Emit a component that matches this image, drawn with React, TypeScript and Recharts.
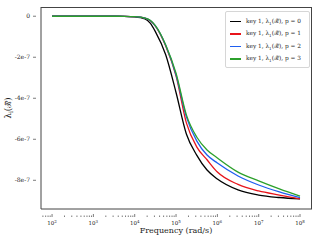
import React from 'react';
import {
  LineChart,
  Line,
  XAxis,
  YAxis,
  Legend,
} from 'recharts';

// frequency read as decade exponents (rad/s = 10^exp)
const freqExp = [2, 2.5, 3, 3.5, 3.75, 4, 4.25, 4.375, 4.5, 4.75, 5, 5.25, 5.5, 5.75, 6, 6.5, 7, 7.5, 8];

// lambda values in units of 1e-7
const p0 = [0, 0, 0, 0, -0.005, -0.03, -0.13, -0.34, -0.75, -1.88, -3.72, -5.74, -6.77, -7.5, -7.94, -8.47, -8.72, -8.84, -8.91];
const p1 = [0, 0, 0, 0, -0.004, -0.02, -0.09, -0.22, -0.48, -1.45, -2.91, -5.2, -6.37, -7.0, -7.6, -8.2, -8.52, -8.72, -8.91];
const p2 = [0, 0, 0, 0, -0.004, -0.02, -0.09, -0.21, -0.47, -1.42, -2.86, -4.91, -6.08, -6.77, -7.16, -7.79, -8.23, -8.57, -8.85];
const p3 = [0, 0, 0, 0, -0.004, -0.02, -0.09, -0.2, -0.46, -1.4, -2.78, -4.81, -5.89, -6.52, -6.91, -7.6, -8.03, -8.42, -8.77];

const xMajorExp = [2, 3, 4, 5, 6, 7, 8];
const yTicks = [0, -2e-7, -4e-7, -6e-7, -8e-7];
const yTickLabels = ['0', '-2e-7', '-4e-7', '-6e-7', '-8e-7'];

const seriesNames = ['p = 0', 'p = 1', 'p = 2', 'p = 3'];
const seriesKeys = ['p0', 'p1', 'p2', 'p3'];
const colors = ['#000000', '#e8141b', '#1f5ef0', '#2ca02c'];

const data = freqExp.map((e, i) => ({
  f: Math.pow(10, e),
  p0: p0[i] * 1e-7,
  p1: p1[i] * 1e-7,
  p2: p2[i] * 1e-7,
  p3: p3[i] * 1e-7,
}));

const majorTicks = xMajorExp.map((e) => Math.pow(10, e));
const minorTicks: number[] = [];
for (let e = 1; e <= 8; e++) {
  for (let m = 2; m <= 9; m++) {
    const v = m * Math.pow(10, e);
    if (v > 54 && v < 1.9e8) minorTicks.push(v);
  }
}
const allTicks = [...majorTicks, ...minorTicks].sort((a, b) => a - b);

const FONT = '"DejaVu Serif", "Liberation Serif", serif';

const XTick = (props: any) => {
  const { x, y, payload } = props;
  const v = payload.value;
  const exp = Math.round(Math.log10(v));
  const major = Math.abs(v - Math.pow(10, exp)) < 1e-6 * v;
  return (
    <g>
      <line x1={x} x2={x} y1={y - (major ? 3 : 1.5)} y2={y} stroke="#444" strokeWidth={0.7} />
      {major && (
        <text x={x} y={y + 8} textAnchor="middle" fontFamily={FONT} fontSize={5.5} fill="#222">
          10
          <tspan dy={-2.5} fontSize={4}>{exp}</tspan>
        </text>
      )}
    </g>
  );
};

const YTick = (props: any) => {
  const { x, y, payload } = props;
  const idx = yTicks.findIndex((t) => Math.abs(t - payload.value) < 1e-12);
  return (
    <g>
      <line x1={x} x2={x + 3} y1={y} y2={y} stroke="#444" strokeWidth={0.7} />
      <text x={x - 3} y={y + 2} textAnchor="end" fontFamily={FONT} fontSize={6} fill="#222">
        {idx >= 0 ? yTickLabels[idx] : ''}
      </text>
    </g>
  );
};

const LegendBox = () => (
  <div
    style={{
      border: '1px solid #d6d6d6',
      borderRadius: 2,
      background: '#fff',
      padding: '3px 3px 2px 4px',
      fontFamily: FONT,
      fontSize: 5.8,
      color: '#222',
    }}
  >
    {seriesNames.map((name, i) => (
      <div key={name} style={{ display: 'flex', alignItems: 'center', height: 12.5 }}>
        <div style={{ width: 11, height: 1.5, background: colors[i], marginRight: 5 }} />
        <span style={{ whiteSpace: 'nowrap' }}>
          key 1, λ<sub style={{ fontSize: 4 }}>1</sub>(ℛ̃), {name}
        </span>
      </div>
    ))}
  </div>
);

const App = () => {
  return (
    <div style={{ position: 'absolute', left: 0, top: 0, width: 320, height: 240, background: '#fff' }}>
      <LineChart width={320} height={240} data={data} margin={{ top: 7, right: 8, left: 0, bottom: 0 }}>
        <XAxis
          dataKey="f"
          type="number"
          scale="log"
          domain={[54, 1.95e8]}
          ticks={allTicks}
          interval={0}
          tick={<XTick />}
          tickLine={false}
          axisLine={{ stroke: '#444', strokeWidth: 1 }}
          height={31}
          allowDataOverflow
          label={() => (
            <text x={176} y={233} textAnchor="middle" fontFamily={FONT} fontSize={8} fill="#222">
              Frequency (rad/s)
            </text>
          )}
        />
        <YAxis
          type="number"
          domain={[-9.4e-7, 0.45e-7]}
          ticks={yTicks}
          interval={0}
          tick={<YTick />}
          tickLine={false}
          axisLine={{ stroke: '#444', strokeWidth: 1 }}
          width={41}
          allowDataOverflow
          label={() => (
            <text x={11} y={108} transform="rotate(-90 11 108)" textAnchor="middle" fontFamily={FONT} fontSize={8.5} fill="#222">
              λ<tspan dy={2} fontSize={6}>i</tspan>
              <tspan dy={-2}>(ℛ̃)</tspan>
            </text>
          )}
        />
        <Legend
          layout="vertical"
          align="center"
          verticalAlign="middle"
          content={<LegendBox />}
          wrapperStyle={{ left: 225, top: 11, width: 85, height: 48 }}
        />
        {seriesKeys.map((k, i) => (
          <Line
            key={k}
            type="monotone"
            dataKey={k}
            stroke={colors[i]}
            strokeWidth={1.3}
            dot={false}
            isAnimationActive={false}
          />
        ))}
      </LineChart>
      <div
        style={{
          position: 'absolute',
          left: 41,
          top: 7,
          width: 271,
          height: 202,
          borderTop: '1px solid #444',
          borderRight: '1px solid #444',
          boxSizing: 'border-box',
          pointerEvents: 'none',
        }}
      />
    </div>
  );
};

export default App;
